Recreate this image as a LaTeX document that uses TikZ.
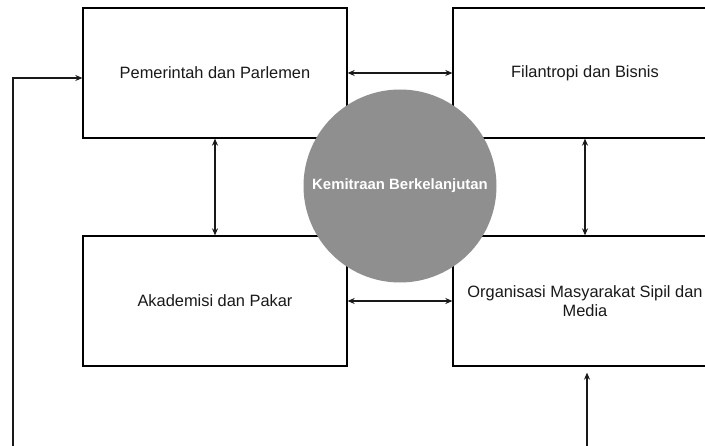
\documentclass[tikz,border=0pt]{standalone}
\usepackage{fontspec}
\setmainfont{Liberation Sans}
\usetikzlibrary{arrows.meta,calc}
\definecolor{circgray}{HTML}{8F8F8F}
\begin{document}
\begin{tikzpicture}[x=1pt,y=-1pt,
  box/.style={draw=black,line width=1.3pt,fill=white,minimum width=264pt,minimum height=130pt,inner sep=0pt,
    font=\fontsize{16.4}{19}\selectfont,text=black!90,align=center},
  conn/.style={line width=1.4pt,black!90},
  tip/.style={-{Stealth[length=7pt,width=6pt]}},
  both/.style={{Stealth[length=7pt,width=6pt]}-{Stealth[length=7pt,width=6pt]}}]
\useasboundingbox (0,0) rectangle (705,446);
\clip (0,0) rectangle (705,446);
\node[box] (A) at (215,73) {Pemerintah dan Parlemen};
\node[box] (B) at (585,73) {Filantropi dan Bisnis};
\node[box] (C) at (215,301) {Akademisi dan Pakar};
\node[box] (D) at (585,301) {Organisasi Masyarakat Sipil dan\\Media};
\coordinate (fbL) at (13,470);
\coordinate (fbR) at (587,470);
\draw[conn,both] (A.east) -- (B.west);
\draw[conn,both] (C.east) -- (D.west);
\draw[conn,both] (A.south) -- (C.north);
\draw[conn,both] (B.south) -- (D.north);
\draw[conn,tip] (fbL) |- ([yshift=-5pt]A.west);
\draw[conn,tip,shorten >=6pt] (fbR) -- (fbR |- D.south);
\node[circle,fill=circgray,minimum size=193pt,inner sep=0pt,text=white,
  font=\fontsize{14.9}{17}\selectfont\bfseries] (K) at (400,186) {Kemitraan Berkelanjutan};
\end{tikzpicture}
\end{document}
